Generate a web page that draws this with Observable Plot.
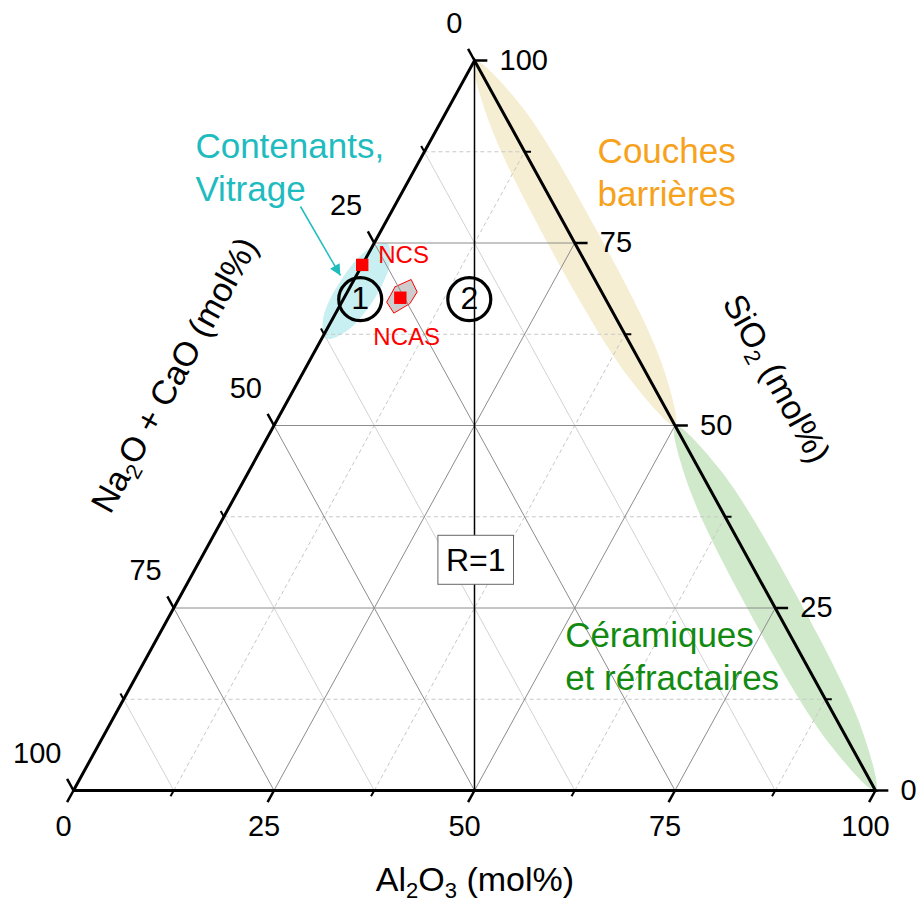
<!DOCTYPE html>
<html><head><meta charset="utf-8">
<script src="https://cdn.jsdelivr.net/npm/d3@7"></script>
<script src="https://cdn.jsdelivr.net/npm/@observablehq/plot@0.6"></script>
<style>body{margin:0;background:#fff;}</style>
</head><body>
<script>
// ---- data (ternary coordinates: a = Al2O3, s = SiO2, n = Na2O+CaO = 100 - a - s) ----
const majorTicks = [0, 25, 50, 75, 100];
const minorTicks = [12.5, 37.5, 62.5, 87.5];
const tickLabels = ["0", "25", "50", "75", "100"];
const majorGrid = [25, 50, 75];
const minorGrid = [12.5, 37.5, 62.5, 87.5];

const vertices = [{a: 0, s: 0}, {a: 100, s: 0}, {a: 0, s: 100}, {a: 0, s: 0}];
const ratioOneLine = [{a: 0, s: 100}, {a: 50, s: 0}];

const barrierZone = [
  {a: 0, s: 100}, {a: 6.1, s: 91.5}, {a: 23.2, s: 73.4}, {a: 41.4, s: 56.2},
  {a: 50, s: 50}, {a: 44.1, s: 58.5}, {a: 27.0, s: 76.6}, {a: 8.8, s: 93.9}
];
const ceramicZone = [
  {a: 50, s: 50}, {a: 56.0, s: 41.5}, {a: 73.1, s: 23.4}, {a: 91.3, s: 6.2},
  {a: 100, s: 0}, {a: 94.0, s: 8.5}, {a: 76.9, s: 26.6}, {a: 58.7, s: 43.9}
];
const containerZone = [
  {a: 1.7, s: 74.9}, {a: 3.4, s: 72.0}, {a: 3.8, s: 67.0}, {a: 2.5, s: 62.8},
  {a: 0.5, s: 61.9}, {a: -1.25, s: 64.8}, {a: -1.6, s: 69.9}, {a: -0.4, s: 74.0}
];
const ncasDomain = [
  {a: 5.6, s: 69.0}, {a: 7.1, s: 70.0}, {a: 8.7, s: 68.3},
  {a: 8.6, s: 66.7}, {a: 7.25, s: 65.4}, {a: 5.6, s: 66.9}
];

const glassNames = ["NCS", "NCAS"];
const glassA = [0, 7];
const glassS = [72, 67.5];

const zoneNames = ["1", "2"];
const zoneA = [2.1, 15.7];
const zoneS = [67.3, 67.3];

const annotTexts = ["Contenants,\nVitrage", "Couches\nbarrières", "Céramiques\net réfractaires"];
const annotA = [-27.6, 22.9, 52.0];
const annotS = [85.6, 84.9, 18.6];

const arrowSeg = [{a1: -11.7, s1: 80.0, a2: -2.0, s2: 70.55}];

const axisTitles = ["Al2O3 (mol%)", "Na2O + CaO (mol%)", "SiO2 (mol%)"];
const titleA = [56.2, -15.8, 59.4];
const titleS = [-12.3, 56.9, 56.4];

const ratioLabel = [{label: "R=1", a: 34.4, s: 31.5}];

// ---- helpers ----
const X = d => d.a + d.s / 2;
const Y = d => d.s;
const FONT = "'Liberation Sans', Arial, Helvetica, sans-serif";
const L1 = 1.6, L2 = 0.8;

const glass = glassNames.map((name, i) => ({name, a: glassA[i], s: glassS[i]}));
const zones = zoneNames.map((label, i) => ({label, a: zoneA[i], s: zoneS[i]}));
const annots = annotTexts.map((t, i) => ({t, a: annotA[i], s: annotS[i]}));
const titles = axisTitles.map((t, i) => ({t, a: titleA[i], s: titleS[i]}));

function tickMarks(vals, L, w) {
  return [
    Plot.link(vals, {x1: a => a, y1: () => 0, x2: a => a - L / 2, y2: () => -L, stroke: "#000", strokeWidth: w}),
    Plot.link(vals, {x1: s => 100 - s / 2, y1: s => s, x2: s => 100 - s / 2 + L, y2: s => s, stroke: "#000", strokeWidth: w}),
    Plot.link(vals, {x1: n => (100 - n) / 2, y1: n => 100 - n, x2: n => (100 - n) / 2 - L / 2, y2: n => 100 - n + L, stroke: "#000", strokeWidth: w})
  ];
}

const plot = Plot.plot({
  width: 917, height: 905,
  marginLeft: 73, marginRight: 42, marginTop: 60, marginBottom: 115,
  x: {domain: [0, 100], axis: null},
  y: {domain: [0, 100], axis: null},
  style: {fontFamily: FONT, background: "#fff", color: "#000", overflow: "visible"},
  marks: [
    Plot.line(barrierZone, {x: X, y: Y, curve: "catmull-rom-closed", fill: "#f5eed3", stroke: "none"}),
    Plot.line(ceramicZone, {x: X, y: Y, curve: "catmull-rom-closed", fill: "#cfe9ca", stroke: "none"}),
    Plot.line(containerZone, {x: X, y: Y, curve: "catmull-rom-closed", fill: "#c8eff2", stroke: "none"}),
    Plot.line([...ncasDomain, ncasDomain[0]], {x: X, y: Y, fill: "#c0c0c1", stroke: "#ff0000", strokeWidth: 1}),

    Plot.link(minorGrid, {x1: n => 100 - n, y1: () => 0, x2: n => (100 - n) / 2, y2: n => 100 - n, stroke: "#d2d2d2", strokeWidth: 1}),
    Plot.link(minorGrid, {x1: s => s / 2, y1: s => s, x2: s => 100 - s / 2, y2: s => s, stroke: "#c8c8c8", strokeWidth: 1, strokeDasharray: "4,3"}),
    Plot.link(minorGrid, {x1: a => a, y1: () => 0, x2: a => a + (100 - a) / 2, y2: a => 100 - a, stroke: "#c8c8c8", strokeWidth: 1, strokeDasharray: "4,3"}),
    Plot.link(majorGrid, {x1: n => 100 - n, y1: () => 0, x2: n => (100 - n) / 2, y2: n => 100 - n, stroke: "#8c8c8c", strokeWidth: 1}),
    Plot.link(majorGrid, {x1: s => s / 2, y1: s => s, x2: s => 100 - s / 2, y2: s => s, stroke: "#8c8c8c", strokeWidth: 1}),
    Plot.link(majorGrid, {x1: a => a, y1: () => 0, x2: a => a + (100 - a) / 2, y2: a => 100 - a, stroke: "#8c8c8c", strokeWidth: 1}),

    Plot.line(ratioOneLine, {x: X, y: Y, stroke: "#000", strokeWidth: 1.5}),

    Plot.line(vertices, {x: X, y: Y, stroke: "#000", strokeWidth: 3, strokeLinejoin: "miter", strokeMiterlimit: 4}),

    ...tickMarks(majorTicks, L1, 2.5),
    ...tickMarks(minorTicks, L2, 2),

    Plot.text(majorTicks, {x: a => a, y: () => 0, text: (d, i) => tickLabels[i], dx: -10, dy: 36, fontSize: 29}),
    Plot.text(majorTicks, {x: n => (100 - n) / 2, y: n => 100 - n, text: (d, i) => tickLabels[i], textAnchor: "end", dx: -12, dy: -37, fontSize: 29}),
    Plot.text(majorTicks, {x: s => 100 - s / 2, y: s => s, text: (d, i) => tickLabels[i], textAnchor: "start", dx: 25, fontSize: 29}),

    Plot.dot(zones, {x: X, y: Y, r: 21.5, stroke: "#000", strokeWidth: 3.2, fill: "none"}),
    Plot.text(zones, {x: X, y: Y, text: d => d.label, fontSize: 32}),

    Plot.dot(glass, {x: X, y: Y, symbol: "square", r: 7, fill: "#ff0000", stroke: "none"}),
    Plot.text(glass.slice(0, 1), {x: X, y: Y, text: d => d.name, textAnchor: "start", dx: 16, dy: -10, fill: "#ff0000", fontSize: 24}),
    Plot.text(glass.slice(1), {x: X, y: Y, text: d => d.name, textAnchor: "start", dx: -27, dy: 40, fill: "#ff0000", fontSize: 24}),

    Plot.link(arrowSeg, {x1: d => d.a1 + d.s1 / 2, y1: d => d.s1, x2: d => d.a2 + d.s2 / 2, y2: d => d.s2, stroke: "#1fbcbe", strokeWidth: 1.5}),

    Plot.text(annots.slice(0, 1), {x: X, y: Y, text: d => d.t, textAnchor: "start", fontSize: 35, lineHeight: 1.22, fill: "#1fbcbf"}),
    Plot.text(annots.slice(1, 2), {x: X, y: Y, text: d => d.t, textAnchor: "start", fontSize: 35, lineHeight: 1.23, fill: "#f7a21c"}),
    Plot.text(annots.slice(2, 3), {x: X, y: Y, text: d => d.t, textAnchor: "start", fontSize: 35, lineHeight: 1.23, fill: "#128a12"}),

    Plot.text(titles.slice(0, 1), {x: X, y: Y, text: d => d.t, fontSize: 34}),
    Plot.text(titles.slice(1, 2), {x: X, y: Y, text: d => d.t, fontSize: 34, rotate: -61.2}),
    Plot.text(titles.slice(2, 3), {x: X, y: Y, text: d => d.t, fontSize: 34, rotate: 61.3}),

    Plot.text(ratioLabel, {x: X, y: Y, text: d => d.label, fontSize: 32})
  ]
});

document.body.appendChild(plot);
const svg = plot.tagName.toLowerCase() === "svg" ? plot : plot.querySelector("svg");
const ns = "http://www.w3.org/2000/svg";
const defs = document.createElementNS(ns, "defs");
defs.innerHTML =
  '<pattern id="checker" width="2" height="2" patternUnits="userSpaceOnUse">' +
  '<rect width="2" height="2" fill="#f2f2f2"/><rect width="1" height="1" fill="#a8a8a8"/>' +
  '<rect x="1" y="1" width="1" height="1" fill="#a8a8a8"/></pattern>' +
  '<marker id="ahead" viewBox="0 0 10 10" refX="10" refY="5" markerUnits="userSpaceOnUse" markerWidth="15" markerHeight="11" orient="auto">' +
  '<path d="M0,0L10,5L0,10z" fill="#1fbcbe"/></marker>';
svg.insertBefore(defs, svg.firstChild);

svg.querySelectorAll('[fill="#c0c0c1"]').forEach(el => el.setAttribute("fill", "url(#checker)"));
svg.querySelectorAll('g[stroke="#1fbcbe"] path').forEach(el => el.setAttribute("marker-end", "url(#ahead)"));

const titleSet = new Set(axisTitles);
svg.querySelectorAll("text").forEach(t => {
  if (!titleSet.has(t.textContent)) return;
  const str = t.textContent;
  t.textContent = "";
  let sub = false;
  str.split(/(\d)/).forEach(p => {
    if (!p) return;
    const sp = document.createElementNS(ns, "tspan");
    const isSub = /^\d$/.test(p);
    if (isSub) { sp.setAttribute("font-size", "22px"); if (!sub) sp.setAttribute("dy", "7"); }
    else if (sub) sp.setAttribute("dy", "-7");
    sub = isSub;
    sp.textContent = p;
    t.appendChild(sp);
  });
});

svg.querySelectorAll("text").forEach(t => {
  if (t.textContent !== "R=1") return;
  const b = t.getBBox();
  const r = document.createElementNS(ns, "rect");
  r.setAttribute("x", b.x - 8);
  r.setAttribute("y", b.y - 6.5);
  r.setAttribute("width", b.width + 16);
  r.setAttribute("height", b.height + 13);
  r.setAttribute("fill", "#fff");
  r.setAttribute("stroke", "#666");
  r.setAttribute("stroke-width", "1");
  if (t.getAttribute("transform")) r.setAttribute("transform", t.getAttribute("transform"));
  t.parentNode.insertBefore(r, t);
});
</script>
</body></html>
